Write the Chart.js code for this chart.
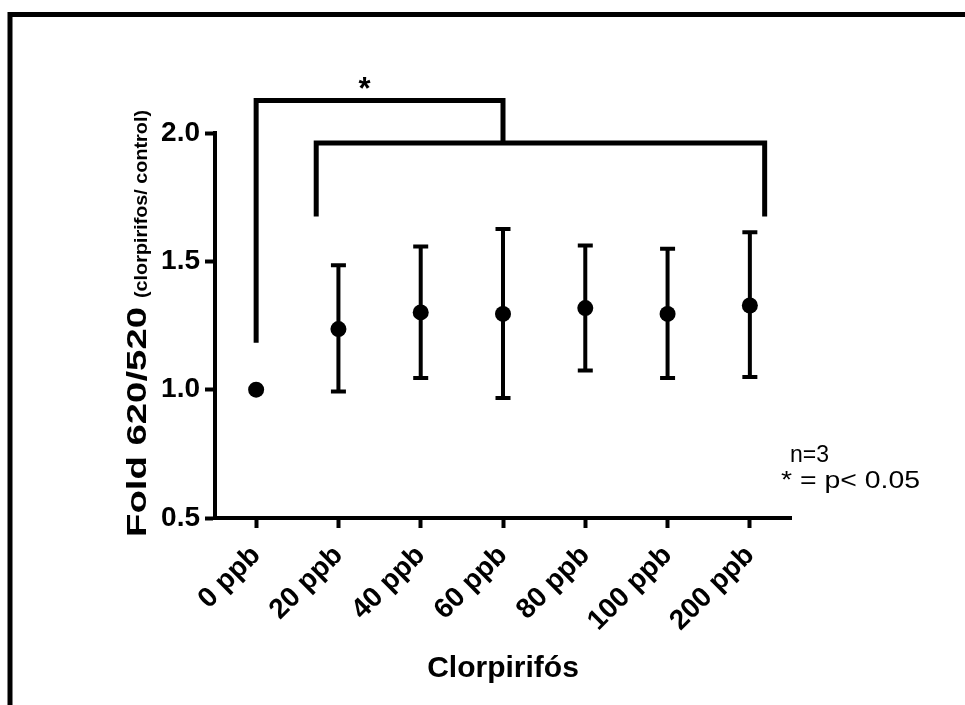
<!DOCTYPE html>
<html>
<head>
<meta charset="utf-8">
<script src="https://cdn.jsdelivr.net/npm/chart.js@4/dist/chart.umd.min.js"></script>
<style>
html,body{margin:0;padding:0;background:#fff;}
#wrap{width:965px;height:705px;position:relative;}
</style>
</head>
<body>
<div id="wrap"><canvas id="c" width="965" height="705"></canvas></div>
<script>
// ---- data ----
const categories = ['0 ppb', '20 ppb', '40 ppb', '60 ppb', '80 ppb', '100 ppb', '200 ppb'];
const meanValues = [1.00, 1.236, 1.301, 1.295, 1.318, 1.295, 1.328];
const errLow  = [null, 0.993, 1.045, 0.968, 1.075, 1.045, 1.049];
const errHigh = [null, 1.485, 1.558, 1.626, 1.562, 1.549, 1.613];
const yTickValues = [0.5, 1.0, 1.5, 2.0];
const xTitle = 'Clorpirifós';
const yTitleMain = 'Fold 620/520';
const yTitleSub = '(clorpirifos/ control)';
const noteLines = ['n=3', '* = p< 0.05'];
// significance brackets (category index / value units)
const bracketFrom = [0, 0.73];
const bracketTo = [3, 6.18];
const bracketTop = [2.127, 1.961];
const bracketLeftEnd = [1.183, 1.675];
const bracketRightEnd = [1.961, 1.675];
const bracketLabel = ['*', ''];

const FONT = '"Liberation Sans", Arial, sans-serif';

function fitText(ctx, text, x, y, targetW) {
  const w = ctx.measureText(text).width;
  ctx.save();
  ctx.translate(x, y);
  ctx.scale(targetW / w, 1);
  ctx.fillText(text, 0, 0);
  ctx.restore();
}

const framePlugin = {
  id: 'frame',
  beforeDraw(chart) {
    const ctx = chart.ctx;
    ctx.save();
    ctx.fillStyle = '#fff';
    ctx.fillRect(0, 0, chart.width, chart.height);
    ctx.strokeStyle = '#000';
    ctx.lineWidth = 5;
    ctx.strokeRect(10, 14.5, 1000, 800);
    ctx.restore();
  }
};

const errorBarPlugin = {
  id: 'errorBars',
  afterDatasetsDraw(chart) {
    const ctx = chart.ctx, xs = chart.scales.x, ys = chart.scales.y;
    ctx.save();
    ctx.strokeStyle = '#000';
    ctx.lineWidth = 4;
    ctx.lineCap = 'butt';
    categories.forEach((c, i) => {
      if (errLow[i] == null || errHigh[i] == null) return;
      const x = xs.getPixelForValue(i);
      const yl = ys.getPixelForValue(errLow[i]);
      const yh = ys.getPixelForValue(errHigh[i]);
      ctx.beginPath();
      ctx.moveTo(x, yl); ctx.lineTo(x, yh);
      ctx.moveTo(x - 7.5, yl); ctx.lineTo(x + 7.5, yl);
      ctx.moveTo(x - 7.5, yh); ctx.lineTo(x + 7.5, yh);
      ctx.stroke();
    });
    ctx.restore();
  }
};

const bracketPlugin = {
  id: 'brackets',
  afterDraw(chart) {
    const ctx = chart.ctx, xs = chart.scales.x, ys = chart.scales.y;
    ctx.save();
    ctx.strokeStyle = '#000';
    ctx.lineWidth = 5;
    ctx.lineJoin = 'miter';
    ctx.lineCap = 'butt';
    bracketFrom.forEach((f, i) => {
      const x1 = xs.getPixelForValue(f);
      const x2 = xs.getPixelForValue(bracketTo[i]);
      const yt = ys.getPixelForValue(bracketTop[i]);
      ctx.beginPath();
      ctx.moveTo(x1, ys.getPixelForValue(bracketLeftEnd[i]));
      ctx.lineTo(x1, yt);
      ctx.lineTo(x2, yt);
      ctx.lineTo(x2, ys.getPixelForValue(bracketRightEnd[i]));
      ctx.stroke();
      if (bracketLabel[i]) {
        ctx.fillStyle = '#000';
        ctx.font = 'bold 31px ' + FONT;
        ctx.textAlign = 'center';
        ctx.textBaseline = 'alphabetic';
        ctx.fillText(bracketLabel[i], (x1 + x2) / 2 - 15, yt - 1);
      }
    });
    // notes
    ctx.fillStyle = '#000';
    ctx.font = '23px ' + FONT;
    ctx.textAlign = 'left';
    ctx.textBaseline = 'middle';
    ctx.fillText(noteLines[0], 790, 456);
    fitText(ctx, noteLines[1], 781, 482, 139);

    // y-axis title (two parts, rotated)
    ctx.save();
    ctx.translate(146, 537);
    ctx.rotate(-Math.PI / 2);
    ctx.textAlign = 'left';
    ctx.textBaseline = 'alphabetic';
    ctx.font = 'bold 27px ' + FONT;
    fitText(ctx, yTitleMain, 0, 0, 230);
    ctx.font = 'bold 18px ' + FONT;
    fitText(ctx, yTitleSub, 239, 1, 188);
    ctx.restore();
    ctx.restore();
  }
};

new Chart(document.getElementById('c'), {
  type: 'line',
  data: {
    labels: categories,
    datasets: [{
      data: meanValues,
      showLine: false,
      pointRadius: 8,
      pointHoverRadius: 8,
      pointBackgroundColor: '#000',
      pointBorderColor: '#000',
      pointBorderWidth: 0,
      backgroundColor: '#000',
      borderColor: '#000'
    }]
  },
  options: {
    responsive: false,
    animation: false,
    devicePixelRatio: 1,
    layout: { padding: { left: 0, top: 133, right: 174, bottom: 0 } },
    plugins: { legend: { display: false }, tooltip: { enabled: false } },
    scales: {
      x: {
        type: 'category',
        offset: true,
        grid: { offset: false, drawOnChartArea: false, drawTicks: true, tickLength: 10, tickWidth: 4, tickColor: '#000' },
        border: { display: true, color: '#000', width: 4 },
        ticks: { color: '#000', font: { family: FONT, size: 28, weight: 'bold' }, minRotation: 45, maxRotation: 45, autoSkip: false, padding: 11 },
        title: { display: true, text: xTitle, color: '#000', font: { family: FONT, size: 30, weight: 'bold' }, padding: { top: 0, bottom: 18 } },
        afterFit(s) { s.height = 187; }
      },
      y: {
        min: 0.5, max: 2.0,
        afterBuildTicks(s) { s.ticks = yTickValues.map(v => ({ value: v })); },
        grid: { drawOnChartArea: false, drawTicks: true, tickLength: 10, tickWidth: 4, tickColor: '#000' },
        border: { display: true, color: '#000', width: 4 },
        ticks: { color: '#000', font: { family: FONT, size: 28, weight: 'bold' }, padding: 5, callback: v => Number(v).toFixed(1) },
        afterFit(s) { s.width = 215; }
      }
    }
  },
  plugins: [framePlugin, errorBarPlugin, bracketPlugin]
});
</script>
</body>
</html>
